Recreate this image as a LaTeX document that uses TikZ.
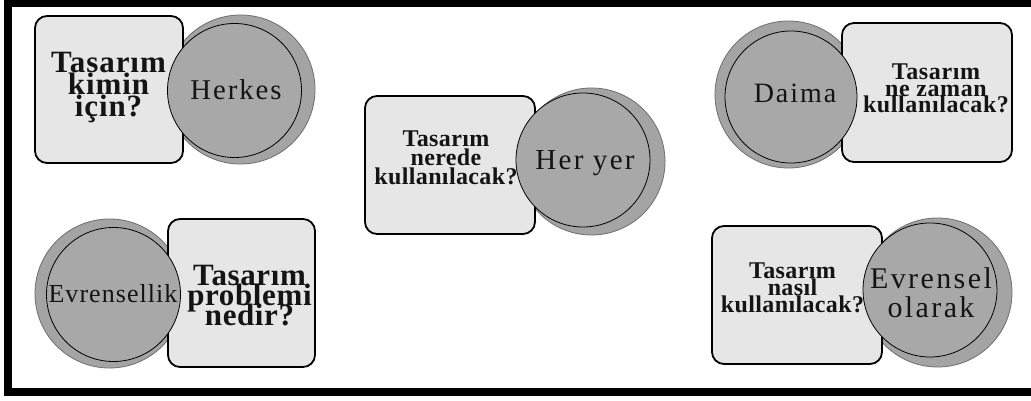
\documentclass[tikz,border=0pt]{standalone}
\usepackage{fontspec}
\setmainfont{Liberation Serif}
\definecolor{boxfill}{HTML}{E6E6E6}
\definecolor{circfill}{HTML}{A8A8A8}
\definecolor{backfill}{HTML}{A4A4A4}
\definecolor{backline}{HTML}{6E6E6E}
\definecolor{txt}{HTML}{141414}
\newcommand{\tightlns}{\lineskiplimit=-100pt\relax\lineskip=0pt\relax}
\newcommand{\qfont}[3]{\fontsize{#1}{#2}\selectfont\bfseries\addfontfeatures{LetterSpace=#3}\tightlns}
\newcommand{\afont}[3]{\fontsize{#1}{#2}\selectfont\addfontfeatures{LetterSpace=#3}\tightlns}
\tikzset{
  qbox/.style={draw=black, line width=1.8pt, fill=boxfill, rounded corners=12pt, inner sep=0pt},
  backcirc/.style={circle, draw=backline, line width=0.8pt, fill=backfill, inner sep=0pt},
  frontcirc/.style={circle, draw=black, line width=0.8pt, fill=circfill, inner sep=0pt},
  qtext/.style={anchor=base, align=center, text=txt, inner sep=0pt},
  ans/.style={anchor=base, align=center, text=txt, inner sep=0pt},
}
\begin{document}
\begin{tikzpicture}[x=1pt, y=-1pt]
\useasboundingbox (0,0) rectangle (1031,401);
\clip (0,0) rectangle (1031,401);
\fill[white] (0,0) rectangle (1031,401);
% frame
\draw[line width=8pt] (8,3) -- (1045,3);
\draw[line width=8pt] (8,-5) -- (8,392) -- (1045,392);

% group 1
\node[backcirc, minimum size=149pt] (back1) at (240.5,89.5) {};
\node[qbox, minimum width=148pt, minimum height=147pt] (box1) at (109,89.5) {};
\node[frontcirc, minimum size=134pt] (front1) at (234.5,90.5) {};
\node[qtext, font={\qfont{31}{22}{3}}] (q1) at (108.5,117) {Tasarım\\kimin\\için?};
\node[ans, font={\afont{28.7}{30}{7}}] (a1) at (236,100) {Herkes};

% group 2
\node[backcirc, minimum size=149pt] (back2) at (109.5,293.5) {};
\node[qbox, minimum width=147pt, minimum height=148pt] (box2) at (241.5,293) {};
\node[frontcirc, minimum size=134pt] (front2) at (113.5,294.5) {};
\node[qtext, font={\qfont{31}{20}{2}}] (q2) at (249.5,325) {Tasarım\\problemi\\nedir?};
\node[ans, font={\afont{26}{28}{4}}] (a2) at (113,302) {Evrensellik};

% group 3
\node[backcirc, minimum size=147pt] (back3) at (591.5,161.5) {};
\node[qbox, minimum width=170pt, minimum height=138pt] (box3) at (450,165) {};
\node[frontcirc, minimum size=134pt] (front3) at (583,160) {};
\node[qtext, font={\qfont{24}{18.5}{1.5}}] (q3) at (446,184) {Tasarım\\nerede\\kullanılacak?};
\node[ans, font={\afont{29}{30}{8}}] (a3) at (585,169) {Her yer};

% group 4
\node[backcirc, minimum size=147pt] (back4) at (788.5,94.5) {};
\node[qbox, minimum width=170pt, minimum height=139pt] (box4) at (927,92.5) {};
\node[frontcirc, minimum size=132pt] (front4) at (791,97) {};
\node[qtext, font={\qfont{24}{16.5}{2.5}}] (q4) at (936,113) {Tasarım\\ne zaman\\kullanılacak?};
\node[ans, font={\afont{28}{30}{7}}] (a4) at (795,103) {Daima};

% group 5
\node[backcirc, minimum size=149pt] (back5) at (937.5,292.5) {};
\node[qbox, minimum width=170pt, minimum height=138pt] (box5) at (797,295) {};
\node[frontcirc, minimum size=134pt] (front5) at (930,290) {};
\node[qtext, font={\qfont{24}{17}{1.5}}] (q5) at (792.5,312) {Tasarım\\nasıl\\kullanılacak?};
\node[ans, font={\afont{30}{29}{8}}] (a5) at (931,317) {Evrensel\\olarak};
\end{tikzpicture}
\end{document}
